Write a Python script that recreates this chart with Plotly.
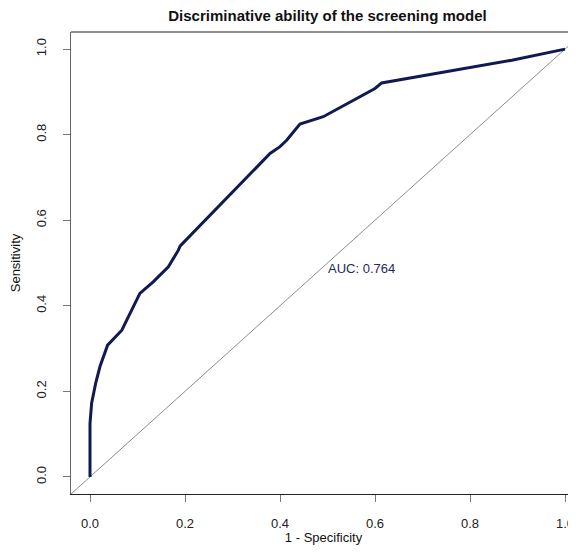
import plotly.graph_objects as go

# ROC curve points (1 - specificity, sensitivity)
fpr = [0.0, 0.0, 0.0035, 0.012, 0.021, 0.037, 0.067, 0.081, 0.105, 0.133, 0.165, 0.186,
       0.19, 0.379, 0.40, 0.414, 0.442, 0.491, 0.60, 0.614, 0.888, 1.0]
tpr = [0.0, 0.125, 0.173, 0.219, 0.258, 0.308, 0.343, 0.375, 0.429, 0.456, 0.491, 0.530,
       0.54, 0.756, 0.772, 0.787, 0.825, 0.842, 0.908, 0.921, 0.974, 1.0]
diag = [-0.04, 1.04]
tick_vals = [0.0, 0.2, 0.4, 0.6, 0.8, 1.0]
tick_text = ["0.0", "0.2", "0.4", "0.6", "0.8", "1.0"]
auc_label = "AUC: 0.764"

navy = "#101a52"
font = "Liberation Sans, Arial, sans-serif"

W, H = 568, 537  # page body adds an 8px margin

fig = go.Figure()
fig.add_trace(go.Scatter(x=diag, y=diag, mode="lines",
                         line=dict(color="#8c8c8c", width=1), hoverinfo="skip"))
fig.add_trace(go.Scatter(x=fpr, y=tpr, mode="lines",
                         line=dict(color=navy, width=3)))

fig.add_annotation(x=0.497, y=0.486, text=auc_label, showarrow=False,
                   xanchor="left", yanchor="middle",
                   font=dict(family=font, size=13, color="#1c2a5e"))

# top border of box
fig.add_shape(type="line", xref="paper", yref="paper", x0=0, x1=1, y0=1, y1=1,
              line=dict(color="#222", width=1.2))

fig.update_layout(
    width=W, height=H,
    margin=dict(l=63, r=0, t=24, b=51),
    plot_bgcolor="white", paper_bgcolor="white",
    showlegend=False,
    title=dict(text="<b>Discriminative ability of the screening model</b>",
               x=319.5 / W, xanchor="center", y=1 - 8 / H, yanchor="middle",
               font=dict(family=font, size=15, color="#111")),
    xaxis=dict(range=[-0.04, (576 - 90) / 475], tickvals=tick_vals, ticktext=tick_text,
               showgrid=False, zeroline=False, showline=True, linecolor="#222", linewidth=1.2,
               ticks="outside", ticklen=7, tickcolor="#777", tickwidth=1.2,
               ticklabelstandoff=10, automargin=False,
               tickfont=dict(family=font, size=13, color="#222"),
               title=dict(text="1 - Specificity", font=dict(family=font, size=13, color="#111"),
                          standoff=12)),
    yaxis=dict(range=[-0.04, 1.04], tickvals=tick_vals, ticktext=tick_text,
               showgrid=False, zeroline=False, showline=True, linecolor="#666", linewidth=1.2,
               ticks="outside", ticklen=7, tickcolor="#777", tickwidth=1.2,
               tickangle=-90, ticklabelstandoff=12, automargin=False,
               tickfont=dict(family=font, size=13, color="#222"),
               title=dict(text="Sensitivity", font=dict(family=font, size=13, color="#111"),
                          standoff=10)),
)

fig.write_html("out.html")
